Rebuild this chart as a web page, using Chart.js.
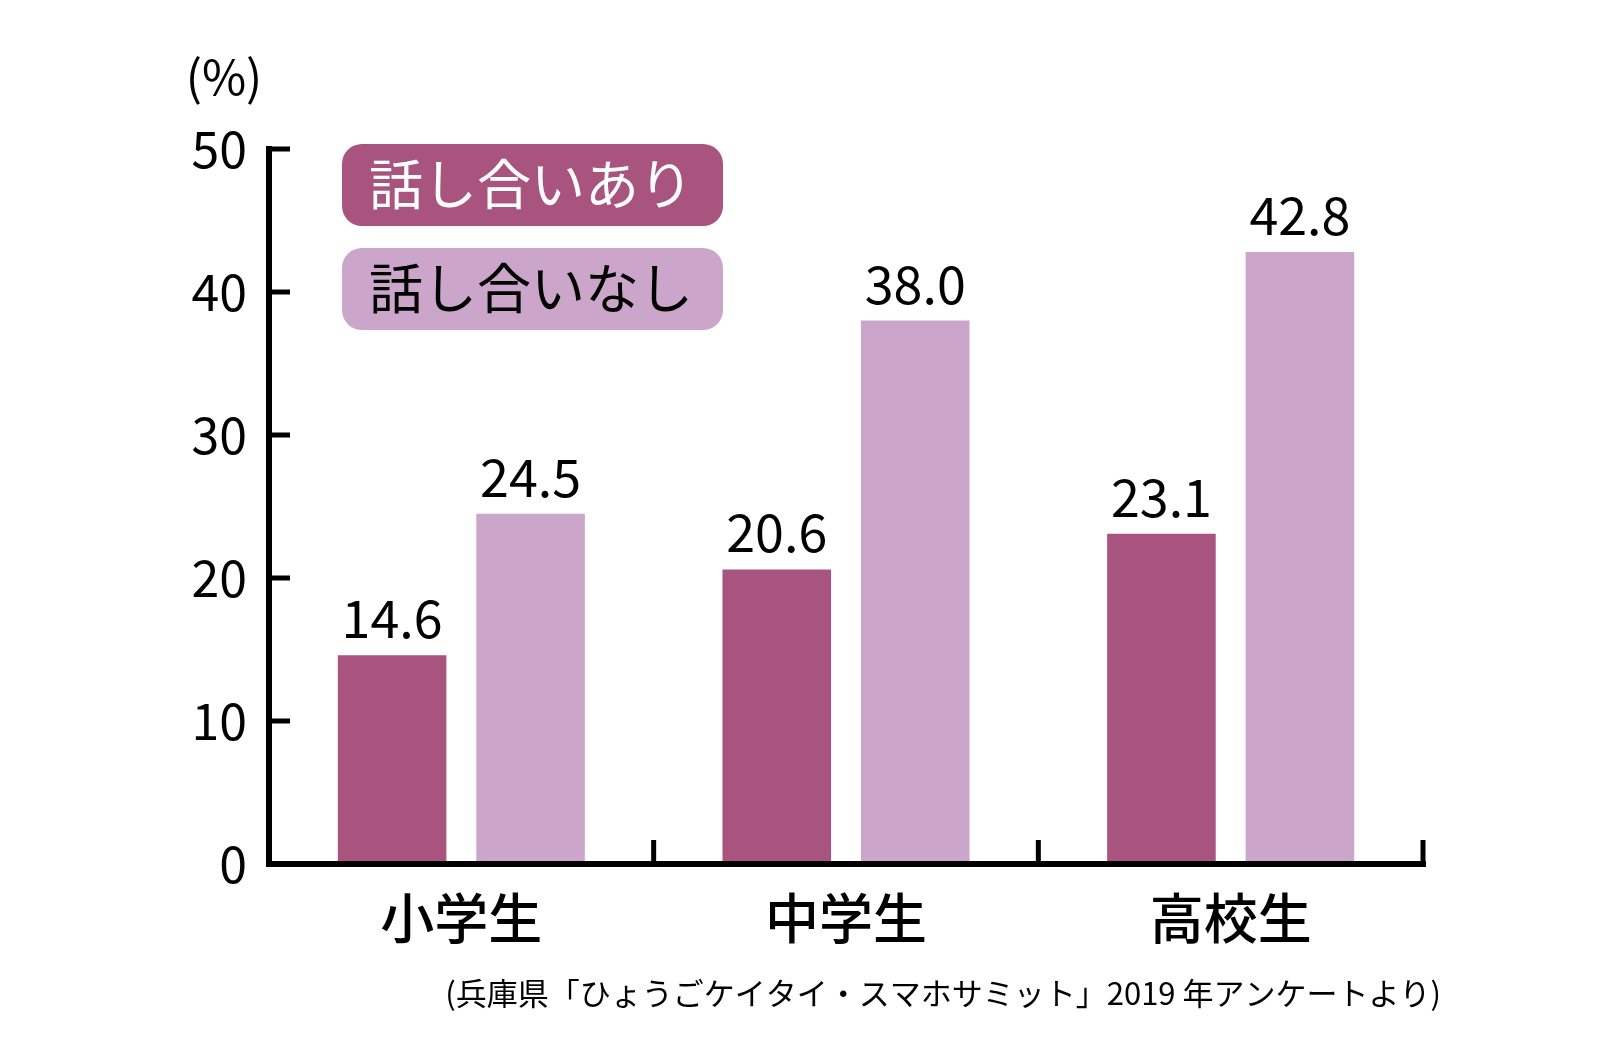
<!DOCTYPE html>
<html>
<head>
<meta charset="utf-8">
<script src="https://cdn.jsdelivr.net/npm/chart.js@4"></script>
<style>
  html, body { margin: 0; padding: 0; background: #fff; }
  #wrap { width: 1600px; height: 1048px; }
</style>
</head>
<body>
<div id="wrap"><canvas id="myChart" width="1600" height="1048"></canvas></div>
<script>
// data
var categories = ["小学生", "中学生", "高校生"];
var withTalk = [14.6, 20.6, 23.1];
var withoutTalk = [24.5, 38.0, 42.8];
var seriesNames = ["話し合いあり", "話し合いなし"];
var yTicks = [0, 10, 20, 30, 40, 50];
var unitLabel = "(%)";
var sourceNote = "(兵庫県「ひょうごケイタイ・スマホサミット」2019 年アンケートより)";

var darkColor = "#a8547e";
var lightColor = "#cba6ca";
var fontName = "'Noto Sans CJK JP', 'Noto Sans', sans-serif";

// axes, ticks, value labels, legend, notes
var decorPlugin = {
    id: "decor",
    afterDatasetsDraw: function (chart) {
        var ctx = chart.ctx;
        var xs = chart.scales.x;
        var ys = chart.scales.y;
        var area = chart.chartArea;

        ctx.save();
        // value labels
        ctx.fillStyle = "#000";
        ctx.font = "52px " + fontName;
        ctx.textAlign = "center";
        ctx.textBaseline = "alphabetic";
        chart.data.datasets.forEach(function (ds, i) {
            chart.getDatasetMeta(i).data.forEach(function (bar, j) {
                ctx.fillText(ds.data[j].toFixed(1), bar.x, bar.y - 17);
            });
        });

        // axes
        ctx.strokeStyle = "#000";
        ctx.lineWidth = 6;
        ctx.lineCap = "butt";
        ctx.beginPath();
        ctx.moveTo(area.left, ys.getPixelForValue(50) - 3);
        ctx.lineTo(area.left, area.bottom);
        ctx.lineTo(area.right + 3, area.bottom);
        ctx.stroke();

        // y ticks pointing inward
        ctx.lineWidth = 5;
        yTicks.forEach(function (v) {
            var py = ys.getPixelForValue(v);
            ctx.beginPath();
            ctx.moveTo(area.left, py);
            ctx.lineTo(area.left + 21, py);
            ctx.stroke();
        });

        // x ticks at category borders
        for (var k = 1; k <= categories.length; k++) {
            var px = xs.getPixelForValue(k - 0.5);
            ctx.beginPath();
            ctx.moveTo(px, area.bottom);
            ctx.lineTo(px, area.bottom - 24);
            ctx.stroke();
        }

        // legend
        var colors = [darkColor, lightColor];
        var textColors = ["#fff", "#000"];
        ctx.font = "54px " + fontName;
        ctx.textAlign = "left";
        ctx.textBaseline = "middle";
        seriesNames.forEach(function (name, i) {
            var bx = 342, by = 144 + i * 104, bw = 381, bh = 82;
            ctx.fillStyle = colors[i];
            ctx.beginPath();
            ctx.roundRect(bx, by, bw, bh, 20);
            ctx.fill();
            ctx.fillStyle = textColors[i];
            ctx.fillText(name, bx + 27, by + bh / 2 - 1);
        });

        // unit and source
        ctx.fillStyle = "#000";
        ctx.font = "48px " + fontName;
        ctx.textAlign = "center";
        ctx.fillText(unitLabel, 224, 77);
        ctx.font = "31px " + fontName;
        ctx.textAlign = "right";
        ctx.fillText(sourceNote, 1441, 993);
        ctx.restore();
    }
};

new Chart("myChart", {
    type: "bar",
    data: {
        labels: categories,
        datasets: [
            { label: seriesNames[0], data: withTalk, backgroundColor: darkColor },
            { label: seriesNames[1], data: withoutTalk, backgroundColor: lightColor }
        ]
    },
    options: {
        responsive: false,
        animation: false,
        devicePixelRatio: 1,
        layout: { padding: { top: 149, right: 177, left: 0, bottom: 0 } },
        categoryPercentage: 0.72,
        barPercentage: 0.784,
        plugins: {
            legend: { display: false },
            tooltip: { enabled: false }
        },
        scales: {
            x: {
                grid: { display: false, drawTicks: false },
                border: { display: false },
                ticks: {
                    color: "#000",
                    padding: 22,
                    font: { family: fontName, size: 54, weight: "500" }
                },
                afterFit: function (s) { s.height = 184; }
            },
            y: {
                min: 0,
                max: 50,
                grid: { display: false, drawTicks: false },
                border: { display: false },
                ticks: {
                    stepSize: 10,
                    color: "#000",
                    padding: 22,
                    font: { family: fontName, size: 50 }
                },
                afterFit: function (s) { s.width = 269; }
            }
        }
    },
    plugins: [decorPlugin]
});
</script>
</body>
</html>
